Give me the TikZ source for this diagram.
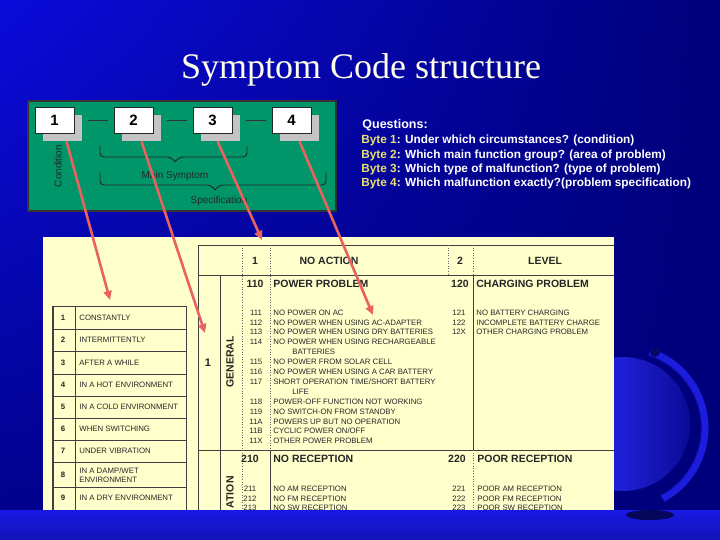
\documentclass[tikz,border=0pt]{standalone}
\usepackage{fontspec}
\setmainfont{Liberation Serif}
\newfontfamily\arial{Liberation Sans}
\usetikzlibrary{arrows.meta,calc,positioning,shadings}

\definecolor{slideblue}{HTML}{0B0BDC}
\definecolor{deepblue}{HTML}{00007A}
\definecolor{stripblue}{HTML}{1818E4}
\definecolor{boardgreen}{HTML}{00966A}
\definecolor{cream}{HTML}{FFFFCC}
\definecolor{arrowred}{HTML}{E8625F}
\definecolor{bytegold}{HTML}{E8E070}
\definecolor{shadowgray}{HTML}{C4C4C4}
\definecolor{globeblue}{HTML}{2424F8}
\definecolor{globedark}{HTML}{0A0A96}
\definecolor{ringblue}{HTML}{1C1CDC}

\tikzset{
  codebox/.style={draw=black!85, fill=white, minimum width=39pt, minimum height=26pt,
    inner sep=0pt, font=\arial\bfseries\fontsize{15}{15}\selectfont},
  shadowbox/.style={fill=shadowgray, minimum width=39pt, minimum height=26pt, inner sep=0pt},
  boardtext/.style={text=black!85, inner sep=0pt, font=\arial\fontsize{10}{10}\selectfont},
  bracepath/.style={draw=black!85, line width=0.9pt, rounded corners=4pt},
  pointer/.style={draw=arrowred, line width=2.6pt, -{Triangle[length=9pt,width=8pt]}},
  celltext/.style={text=black!85, inner sep=0pt, font=\arial\fontsize{7.8}{8.6}\selectfont},
  headtext/.style={text=black!85, inner sep=0pt, font=\arial\bfseries\fontsize{10.5}{11}\selectfont},
  gridline/.style={draw=black!75, line width=0.8pt},
  dotline/.style={draw=black!60, line width=0.6pt, dotted},
}

\begin{document}
\begin{tikzpicture}[x=1pt, y=-1pt, >=Stealth, thick]
    % Slide background
    \shade[upper left=slideblue, upper right=deepblue, lower left=deepblue!85!slideblue,
      lower right=deepblue] (0,0) rectangle (720,540);
    \useasboundingbox (0,0) rectangle (720,540);

    % Globe behind the table
    \shade[left color=globeblue, right color=globedark, middle color=globeblue!85!black] (623,424) circle (67);
    \draw[ringblue, line width=7pt] (625,428) ++(-72:80) arc[start angle=-72, end angle=62, radius=80];
    \draw[globedark, line width=1pt] (625,428) ++(-72:76) arc[start angle=-72, end angle=62, radius=76];
    \fill[globedark!70!black] (655,352) circle (5);

    % Title
    \node[text=white!92!yellow, font=\fontsize{36}{40}\selectfont] (title) at (361,70) {Symptom Code structure};

    % Green board
    \draw[fill=boardgreen, draw=black!80, line width=1.6pt] (28,101) rectangle (336,211);

    % Code boxes with shadows
    \foreach \i in {1,...,4} {
        \node[shadowbox] (s\i) at ({62.5+79*(\i-1)},128) {};
        \node[codebox] (b\i) at ({54.5+79*(\i-1)},120) {\i};
    }
    \foreach \i/\j in {1/2,2/3,3/4}
        \draw[black!80, thin] ($(s\i.east |- b\i.center)+(6,0)$) -- ($(b\j.west)+(-6,0)$);

    % Board labels
    \node[boardtext, rotate=90] (cond) at (58,166) {Condition};
    \draw[bracepath] (100,146) |- (171,157) -- (175,162);
    \draw[bracepath] (247,146) |- (179,157) -- (175,162);
    \node[boardtext] (mainsym) at (175,176) {Main Symptom};
    \draw[bracepath] (100,172) |- (211,185) -- (215,190);
    \draw[bracepath] (326,172) |- (219,185) -- (215,190);
    \node[boardtext] (spec) at (219,201) {Specification};

    % Questions
    \node[anchor=west, inner sep=0pt, text=white, font=\arial\bfseries\fontsize{12.5}{13}\selectfont] (q0) at (362,125) {Questions:};
    \foreach \i/\txt/\y in {1/Under which circumstances? (condition)/140,
        2/Which main function group? (area of problem)/155,
        3/Which type of malfunction? (type of problem)/169,
        4/Which malfunction exactly?(problem specification)/183}
        \node[anchor=west, inner sep=0pt, font=\arial\bfseries\fontsize{11.8}{12}\selectfont] (q\i) at (361,\y)
            {\textcolor{bytegold}{Byte \i}\textcolor{white}{: \txt}};

    % Table sheet
    \fill[cream] (43,237) rectangle (614,510);
    \begin{scope}
        \clip (43,237) rectangle (614,510);

        % Condition table
        \foreach \y in {306,329,351,374,396,418,440,462,487,510}
            \draw[gridline] (53,\y) -- (186,\y);
        \draw[gridline, line width=1.2pt] (53,306) -- (53,510);
        \draw[gridline] (75,306) -- (75,510);
        \draw[gridline] (186,306) -- (186,510);
        \foreach \n/\txt/\y in {1/CONSTANTLY/318, 2/INTERMITTENTLY/340, 3/AFTER A WHILE/363,
            4/IN A HOT ENVIRONMENT/385, 5/IN A COLD ENVIRONMENT/407, 6/WHEN SWITCHING/429,
            7/UNDER VIBRATION/451, 8/{IN A DAMP/WET\\ENVIRONMENT}/475, 9/IN A DRY ENVIRONMENT/498} {
            \node[celltext, font=\arial\bfseries\fontsize{7.8}{8.6}\selectfont] (cn\n) at (63,\y) {\n};
            \node[celltext, anchor=west, align=left] (ct\n) at (79,\y) {\txt};
        }

        % Symptom table grid
        \draw[gridline, line width=1pt] (198,245) -- (614,245);
        \draw[gridline] (198,275) -- (614,275);
        \draw[gridline] (198,450) -- (614,450);
        \draw[gridline] (198,245) -- (198,510);
        \draw[gridline] (220,275) -- (220,510);
        \draw[dotline] (242,245) -- (242,510);
        \draw[dotline] (270,245) -- (270,450);
        \draw[gridline] (270,450) -- (270,510);
        \draw[dotline] (448,245) -- (448,275);
        \draw[dotline] (473,245) -- (473,275);
        \draw[gridline] (473,275) -- (473,450);
        \draw[dotline] (473,450) -- (473,510);

        % Header row
        \node[headtext] (h1) at (255,261) {1};
        \node[headtext] (noaction) at (329,261) {NO ACTION};
        \node[headtext] (h2) at (460,261) {2};
        \node[headtext] (level) at (545,261) {LEVEL};

        % Group 1
        \node[headtext, font=\arial\bfseries\fontsize{11}{11}\selectfont] (g1) at (208,363) {1};
        \node[headtext, rotate=90] (general) at (230,362) {GENERAL};
        \node[headtext] (c110) at (255,284) {110};
        \node[headtext, anchor=west] (d110) at (273,284) {POWER PROBLEM};
        \node[headtext] (c120) at (460,284) {120};
        \node[headtext, anchor=west] (d120) at (476,284) {CHARGING PROBLEM};
        \foreach \c/\txt/\y in {111/NO POWER ON AC/313, 112/NO POWER WHEN USING AC-ADAPTER/322.5,
            113/NO POWER WHEN USING DRY BATTERIES/332, 114/NO POWER WHEN USING RECHARGEABLE/342,
            115/NO POWER FROM SOLAR CELL/362, 116/NO POWER WHEN USING A CAR BATTERY/372,
            117/{SHORT OPERATION TIME/SHORT BATTERY}/382, 118/POWER-OFF FUNCTION NOT WORKING/402,
            119/NO SWITCH-ON FROM STANDBY/412, 11A/POWERS UP BUT NO OPERATION/421.5,
            11B/{CYCLIC POWER ON/OFF}/431, 11X/OTHER POWER PROBLEM/441} {
            \node[celltext] (c\c) at (256,\y) {\c};
            \node[celltext, anchor=west] (d\c) at (273,\y) {\txt};
        }
        \node[celltext, anchor=west] (d114b) at (292,352) {BATTERIES};
        \node[celltext, anchor=west] (d117b) at (292,392) {LIFE};
        \foreach \c/\txt/\y in {121/NO BATTERY CHARGING/313, 122/INCOMPLETE BATTERY CHARGE/322.5,
            12X/OTHER CHARGING PROBLEM/332} {
            \node[celltext] (c\c) at (459,\y) {\c};
            \node[celltext, anchor=west] (d\c) at (476,\y) {\txt};
        }

        % Group 2
        \node[headtext, rotate=90, anchor=east] (reception) at (230,476) {ATION};
        \node[headtext] (c210) at (250,459) {210};
        \node[headtext, anchor=west] (d210) at (273,459) {NO RECEPTION};
        \node[headtext] (c220) at (457,459) {220};
        \node[headtext, anchor=west] (d220) at (477,459) {POOR RECEPTION};
        \foreach \c/\txt/\y in {211/NO AM RECEPTION/489, 212/NO FM RECEPTION/498.5, 213/NO SW RECEPTION/508} {
            \node[celltext] (c\c) at (250,\y) {\c};
            \node[celltext, anchor=west] (d\c) at (273,\y) {\txt};
        }
        \foreach \c/\txt/\y in {221/POOR AM RECEPTION/489, 222/POOR FM RECEPTION/498.5, 223/POOR SW RECEPTION/508} {
            \node[celltext] (c\c) at (459,\y) {\c};
            \node[celltext, anchor=west] (d\c) at (477,\y) {\txt};
        }
    \end{scope}

    % Bottom strip and globe foot
    \shade[top color=stripblue, bottom color=stripblue!80!black] (0,510) rectangle (720,540);
    \fill[globedark!60!black] (650,515) ellipse[x radius=24, y radius=5];

    % Pointers from the code bytes
    \coordinate (condtop) at (110,300);
    \coordinate (groupone) at (205,333);
    \coordinate (noactcol) at (262,240);
    \coordinate (adapter) at (373,315);
    \draw[pointer] ([xshift=4pt]s1.south) -- (condtop);
    \draw[pointer] (s2.south) -- (groupone);
    \draw[pointer] ([xshift=-3pt]s3.south) -- (noactcol);
    \draw[pointer] (s4.south) -- (adapter);
\end{tikzpicture}
\end{document}
